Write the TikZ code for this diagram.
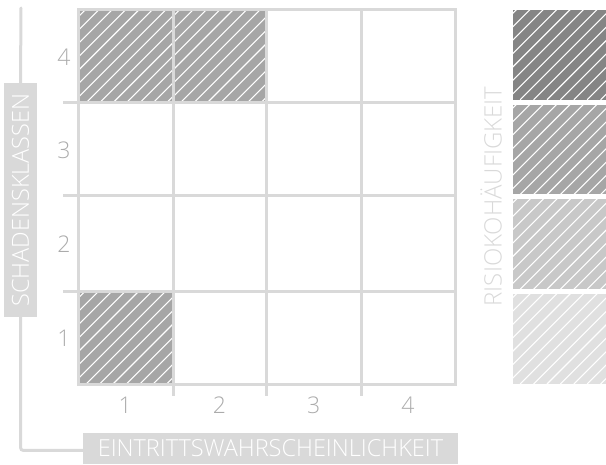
\documentclass[tikz,border=0pt]{standalone}
\usepackage{fontspec}
\setmainfont{Open Sans}[UprightFont={* Light}]
\usetikzlibrary{positioning,calc}
\definecolor{gridgray}{HTML}{D9D9D9}
\definecolor{numgray}{HTML}{ABABAB}
\definecolor{cellgray}{HTML}{A6A6A6}
\definecolor{riskA}{HTML}{858585}
\definecolor{riskB}{HTML}{A6A6A6}
\definecolor{riskC}{HTML}{C8C8C8}
\definecolor{riskD}{HTML}{E0E0E0}
\tikzset{
  gridline/.style={draw=gridgray, line width=3pt},
  axisline/.style={draw=gridgray, line width=3pt, line cap=round},
  hatchline/.style={draw=white, line width=1.1pt},
  axislbl/.style={fill=gridgray, text=white, font=\fontsize{23.5}{23.5}\selectfont, inner sep=0pt},
  numlbl/.style={text=numgray, font=\fontsize{23}{23}\selectfont, inner sep=0pt},
}
% filled box with white diagonal hatching: x1, y1 (top), x2, y2 (bottom), colour
\newcommand{\hatchbox}[5]{%
  \fill[#5] ({#1},{#2}) rectangle ({#3},{#4});
  \begin{scope}
    \clip ({#1},{#2}) rectangle ({#3},{#4});
    \foreach \k in {0,13.4,...,200}
      \draw[hatchline] ({#1+\k-100},{#4}) -- ++(100,-100);
  \end{scope}}

\begin{document}
\begin{tikzpicture}[x=1pt, y=-1pt]
\useasboundingbox (0,0) rectangle (606,465);

% marked cells
\foreach \c/\r in {1/4, 2/4, 1/1}
  \hatchbox{78+(\c-1)*94.25}{10+(4-\r)*93.75}{78+\c*94.25}{10+(5-\r)*93.75}{cellgray};

% matrix grid
\foreach \x in {173,266,361}
  \draw[gridline] (\x,10) -- (\x,396);
\foreach \y in {103,196,292}
  \draw[gridline] (63,\y) -- (455,\y);
\draw[gridline] (78,10) rectangle (455,385);

% class numbers
\foreach \r in {1,...,4}
  \node[numlbl] (row\r) at (64,{10+(4.5-\r)*93.75}) {\r};
\foreach \c in {1,...,4}
  \node[numlbl] (col\c) at ({78+(\c-0.5)*94.25},405) {\c};

% axis labels
\node[axislbl, rotate=90, minimum width=234pt, minimum height=33pt] (ylab) at (20.5,200) {SCHADENSKLASSEN};
\node[axislbl, minimum width=375pt, minimum height=31pt] (xlab) at (270.5,448.5) {EINTRITTSWAHRSCHEINLICHKEIT};

\coordinate (ytop) at (21,8);
\draw[axisline] (ytop) -- (ylab.east);
\draw[axisline, rounded corners=3pt] (ylab.west) |- ($(xlab.west)+(0,2)$);

% legend
\foreach \i/\col in {0/riskA, 1/riskB, 2/riskC, 3/riskD}
  \hatchbox{513}{10+\i*94.75}{606}{99.75+\i*94.75}{\col};
\node[text=gridgray, rotate=90, font=\fontsize{24}{24}\selectfont, inner sep=0pt] (risklbl) at (491,196.5) {RISIOKOHÄUFIGKEIT};

\end{tikzpicture}
\end{document}
